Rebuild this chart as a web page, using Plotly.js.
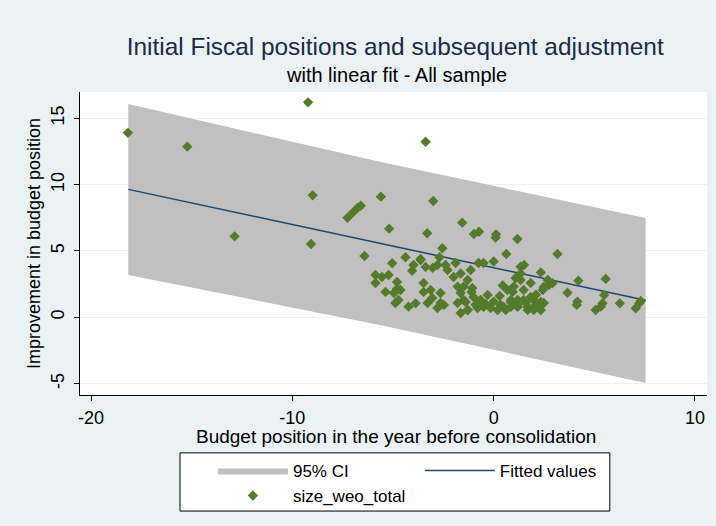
<!DOCTYPE html>
<html>
<head>
<meta charset="utf-8">
<script src="https://cdn.plot.ly/plotly-3.0.1.min.js"></script>
<style>html,body{margin:0;padding:0;background:#eaf2f3;}#chart{width:716px;height:526px;}</style>
</head>
<body>
<div id="chart"></div>
<script>
// Budget position in the year before consolidation (x) and improvement in budget position (y)
const budgetBefore = [
  -18.17,-15.22,-12.87,-9.22,-8.99,-9.07,-5.6,-7.26,-7.01,-6.77,-6.6,-3.38,-3.0,-5.19,-3.3,-1.56,-0.98,-0.73,0.1,0.12,1.18,
  -6.42,-4.38,-3.63,-2.55,-2.69,0.63,3.17,4.21,5.57,3.67,4.13,4.16,5.07,5.32,5.41,5.49,6.27,7.06,7.23,7.31,-5.04,
  -3.98,-4.05,-3.63,-3.38,-3.03,-2.79,-2.39,-2.29,-1.89,
  -5.87,-5.55,-5.22,-5.87,-4.8,-4.8,-5.37,-4.95,-4.63,-4.88,-4.73,-4.23,-3.88,
  -3.48,-3.48,-3.13,-3.05,-2.64,-2.64,-2.79,-3.28,-2.47,
  -1.99,-1.64,-1.79,-1.64,-1.79,-1.49,-1.29,-1.64,
  -0.75,-0.5,0.0,1.34,1.51,1.34,1.09,1.84,2.34,2.69,2.74,2.44,
  -1.14,-1.29,-1.49,-1.06,
  -1.0,-0.65,-0.3,0.0,0.35,0.85,1.19,0.6,0.2,-0.15,-0.5,-0.8,-1.39,-1.29,1.49,1.84,1.99,2.34,1.49,1.69,0.95,
  2.49,0.68,1.0,1.34,0.85,1.19,0.5,0.85,1.19,1.99,2.14,2.34,2.49,1.99,1.69,2.92,
  -0.4,0.3,-1.1,0.45,-0.9,1.6,2.1
];
const budgetImprovement = [
  13.9,12.86,6.1,16.2,9.19,5.52,9.09,7.5,7.87,8.24,8.4,13.23,8.76,6.68,6.33,7.13,6.28,6.45,6.0,6.25,5.9,
  4.62,4.52,4.4,5.2,4.52,4.77,4.77,2.76,2.89,1.85,0.93,1.18,0.55,0.8,1.05,1.68,1.05,0.68,1.05,1.23,4.07,
  3.94,3.5,4.32,3.79,3.72,3.94,3.94,3.56,4.09,
  3.19,3.04,3.19,2.58,2.66,2.15,1.91,1.83,2.06,1.08,1.3,0.8,1.05,
  2.58,1.91,2.06,1.45,1.83,1.08,0.7,1.08,0.93,
  3.04,3.3,2.31,1.83,1.08,1.3,0.55,0.32,
  4.09,4.09,4.2,3.81,3.94,3.3,2.96,2.58,3.38,2.81,2.43,2.06,
  3.56,2.81,2.31,2.21,
  1.53,1.3,1.68,1.18,0.93,1.15,0.78,0.55,0.55,0.7,0.78,0.7,1.15,0.55,1.3,1.53,0.78,0.55,2.06,0.55,1.91,
  2.28,2.06,2.31,2.81,1.3,1.3,0.78,0.78,0.93,1.3,0.78,1.15,1.08,0.55,0.78,2.56,
  1.0,1.6,1.9,2.4,0.95,1.1,1.7
];

// Linear fit and 95% CI
const fitX = [-18.15, -5.6, 7.55];
const fitY = [9.64, 5.56, 1.28];
const ciUpper = [16.07, 11.7, 7.48];
const ciLower = [3.19, -0.6, -4.95];

const xTicks = [-20, -10, 0, 10];
const xTickText = ['-20', '-10', '0', '10'];
const yTicks = [-5, 0, 5, 10, 15];
const yTickText = ['-5', '0', '5', '10', '15'];

const FONT = 'Liberation Sans, Arial, sans-serif';

const traces = [
  {x: fitX, y: ciLower, type: 'scatter', mode: 'lines', line: {width: 0, color: '#c0c0c0'},
   showlegend: false, hoverinfo: 'skip'},
  {x: fitX, y: ciUpper, type: 'scatter', mode: 'lines', line: {width: 0, color: '#c0c0c0'},
   fill: 'tonexty', fillcolor: '#c0c0c0', name: '95% CI', legend: 'legend'},
  {x: fitX, y: fitY, type: 'scatter', mode: 'lines', line: {color: '#1a476f', width: 1.5},
   name: 'Fitted values', legend: 'legend2'},
  {x: budgetBefore, y: budgetImprovement, type: 'scatter', mode: 'markers',
   marker: {symbol: 'diamond', size: 8, color: '#547a2b'}, name: 'size_weo_total', legend: 'legend'}
];

const legendCommon = {
  orientation: 'v', yanchor: 'top', y: -0.191, xanchor: 'left',
  bgcolor: 'rgba(0,0,0,0)', borderwidth: 0,
  font: {size: 17}, itemwidth: 70, traceorder: 'normal', tracegroupgap: 0
};

const layout = {
  width: 716, height: 526,
  paper_bgcolor: '#eaf2f3', plot_bgcolor: '#ffffff',
  font: {family: FONT, size: 18, color: '#000'},
  margin: {l: 80, r: 9, t: 92, b: 131, autoexpand: false},
  title: {
    text: 'Initial Fiscal positions and subsequent adjustment',
    font: {family: FONT, size: 24.4, color: '#1a2a48'},
    x: 0.552, xanchor: 'center', y: 0.911, yanchor: 'middle'
  },
  annotations: [{
    text: 'with linear fit - All sample', xref: 'paper', yref: 'paper', x: 0.504, y: 1.056,
    xanchor: 'center', yanchor: 'middle', showarrow: false, font: {family: FONT, size: 20, color: '#000'}
  }, {
    text: 'Budget position in the year before consolidation', xref: 'paper', yref: 'paper', x: 0.504, y: -0.1386,
    xanchor: 'center', yanchor: 'middle', showarrow: false, font: {family: FONT, size: 19, color: '#000'}
  }],
  shapes: [{
    type: 'rect', xref: 'paper', yref: 'paper', x0: 0.1595, x1: 0.845, y0: -0.383, y1: -0.191,
    line: {color: '#000', width: 1}, fillcolor: '#ffffff', layer: 'above'
  }],
  xaxis: {
    range: [-20.55, 10.6], tickvals: xTicks, ticktext: xTickText, ticks: 'outside', ticklen: 5, tickcolor: '#000',
    showline: true, linecolor: '#000', linewidth: 1, showgrid: false, zeroline: false, ticklabelstandoff: 1,
    tickfont: {size: 18}
  },
  yaxis: {
    range: [-5.86, 16.98], tickvals: yTicks, ticktext: yTickText, ticks: 'outside', ticklen: 5, tickcolor: '#000', tickangle: -90,
    showline: true, linecolor: '#000', linewidth: 1, showgrid: true, gridcolor: '#eaf2f3', gridwidth: 1, zeroline: false,
    ticklabelstandoff: 3,
    tickfont: {size: 18}, title: {text: 'Improvement in budget position', standoff: 2, font: {size: 18}}
  },
  legend: Object.assign({}, legendCommon, {x: 0.212}),
  legend2: Object.assign({}, legendCommon, {x: 0.542}),
  showlegend: true
};

Plotly.newPlot('chart', traces, layout, {displayModeBar: false, staticPlot: true});
</script>
</body>
</html>
